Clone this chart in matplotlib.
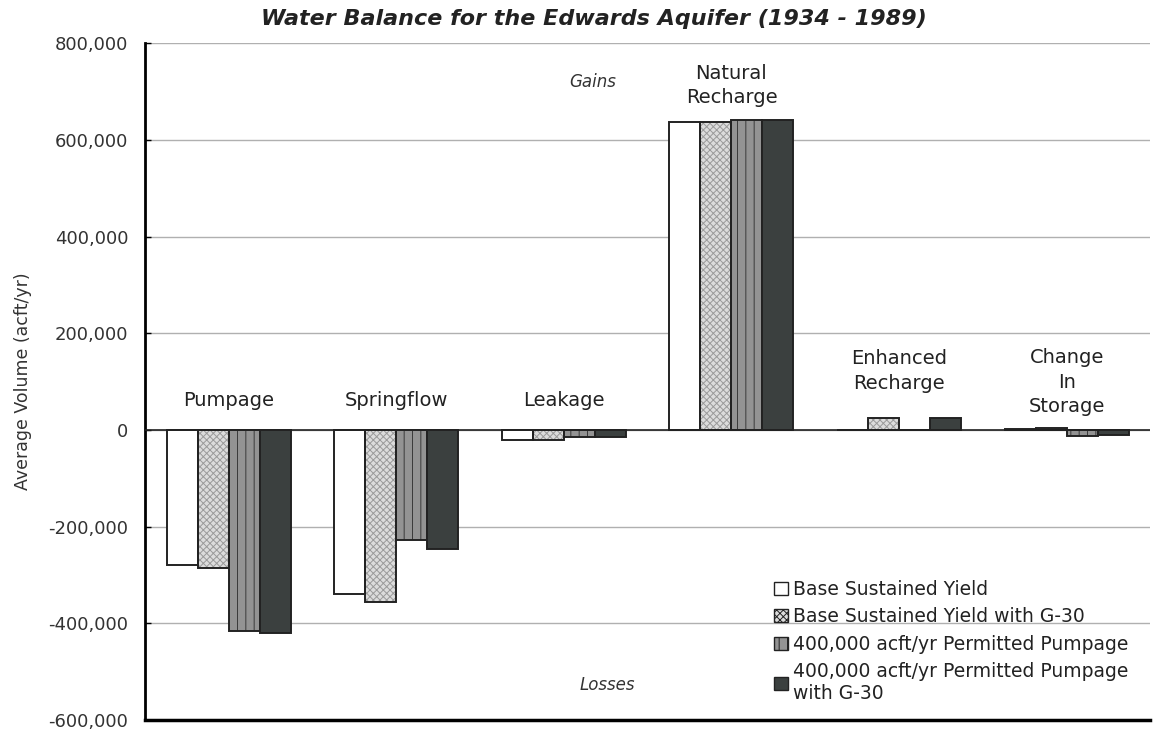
import matplotlib
matplotlib.use("Agg")
import matplotlib.pyplot as plt
from matplotlib.patches import Patch
from matplotlib.ticker import FuncFormatter
import numpy as np

plt.rcParams["font.family"] = ["DejaVu Sans"]
plt.rcParams["hatch.linewidth"] = 0.7

categories = ["Pumpage", "Springflow", "Leakage", "Natural\nRecharge",
              "Enhanced\nRecharge", "Change\nIn\nStorage"]
series_names = ["Base Sustained Yield",
                "Base Sustained Yield with G-30",
                "400,000 acft/yr Permitted Pumpage",
                "400,000 acft/yr Permitted Pumpage\nwith G-30"]
base = [-280000, -340000, -20000, 638000, 0, 3000]
base_g30 = [-285000, -355000, -20000, 638000, 25000, 5000]
permitted = [-415000, -228000, -15000, 642000, 0, -13000]
permitted_g30 = [-420000, -246000, -15000, 642000, 25000, -10000]
yticks = [-600000, -400000, -200000, 0, 200000, 400000, 600000, 800000]

# fill, hatch, hatch colour per series
styles = [
    ("white", None, "black"),
    ("#dcdcdc", "xxxxx", "#9a9a9a"),
    ("#939393", "||", "#3a3a3a"),
    ("#3b403f", None, "#3b403f"),
]

fig = plt.figure(figsize=(11.57, 7.34), dpi=100)
ax = fig.add_axes([0.1253, 0.019, 0.869, 0.922])

x = np.arange(len(categories))
width = 0.185
values = [base, base_g30, permitted, permitted_g30]
for i, (vals, (fc, hatch, hc)) in enumerate(zip(values, styles)):
    pos = x + (i - 1.5) * width
    ax.bar(pos, vals, width, color=fc, hatch=hatch, edgecolor=hc,
           linewidth=0, zorder=3)
    ax.bar(pos, vals, width, fill=False, edgecolor="#222222",
           linewidth=1.4, zorder=4)

ax.set_xlim(-0.5, len(categories) - 0.5)
ax.set_ylim(-600000, 800000)
ax.set_yticks(yticks)
ax.yaxis.set_major_formatter(FuncFormatter(lambda v, p: f"{int(v):,}"))
ax.tick_params(axis="y", labelsize=13, labelcolor="#333333", length=4,
               direction="in", width=1, pad=12)
ax.set_xticks([])
ax.grid(axis="y", color="#b0b0b0", linewidth=1.0, zorder=0)
ax.axhline(0, color="#222222", linewidth=1.2, zorder=5)
for s in ("top", "right"):
    ax.spines[s].set_visible(False)
ax.spines["left"].set_linewidth(2)
ax.spines["bottom"].set_linewidth(2.5)
ax.set_ylabel("Average Volume (acft/yr)", fontsize=12.5, color="#333333",
              labelpad=12)

# group labels drawn inside the plot area
label_pos = [(0, 62000), (1, 62000), (2, 62000), (3, 712000),
             (4, 122000), (5, 99000)]
for (i, y), name in zip(label_pos, categories):
    ax.text(x[i], y, name, ha="center", va="center", fontsize=14,
            color="#222222", linespacing=1.35)
ax.text(2.17, 720000, "Gains", ha="center", va="center", fontsize=12,
        style="italic", color="#333333")
ax.text(2.26, -528000, "Losses", ha="center", va="center", fontsize=12,
        style="italic", color="#333333")

handles = [Patch(facecolor=fc, hatch=h, edgecolor="#222222", linewidth=1)
           for fc, h, hc in styles]
ax.legend(handles, series_names, loc="lower right",
          bbox_to_anchor=(0.995, 0.0), frameon=False, fontsize=13.5,
          handlelength=0.7, handleheight=0.7, handletextpad=0.3,
          labelspacing=0.45, labelcolor="#222222")

fig.text(0.513, 0.974, "Water Balance for the Edwards Aquifer (1934 - 1989)",
         ha="center", va="center", fontsize=16, fontweight="bold",
         style="italic", color="#222222")

fig.savefig("out.png", dpi=100)
